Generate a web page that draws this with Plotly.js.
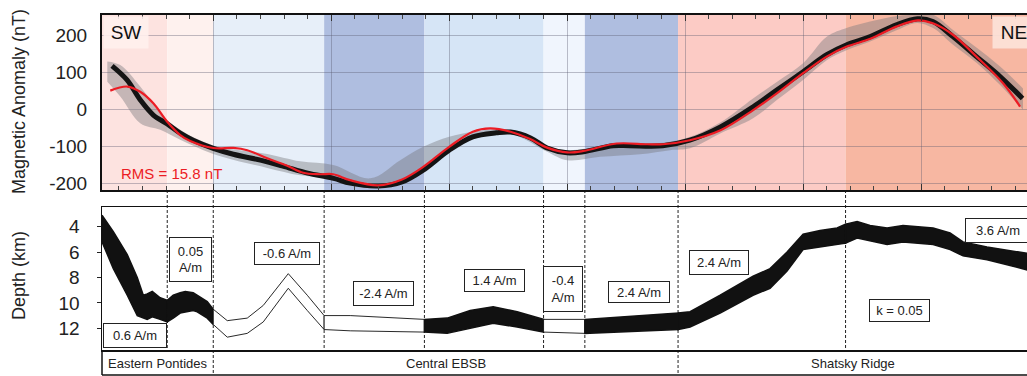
<!DOCTYPE html>
<html><head><meta charset="utf-8">
<script src="https://cdn.plot.ly/plotly-3.0.1.min.js"></script>
<style>html,body{margin:0;padding:0;background:#fff}#chart{width:1027px;height:376px}</style>
</head><body><div id="chart"></div>
<script>
// ---------- data (distance along profile in km) ----------
const modelX = [14.2, 26.9, 38.1, 49.2, 61, 72, 83, 100, 117, 140, 159, 180, 202, 216, 240, 260, 278, 300, 320, 340, 352, 369, 383, 400, 414, 439, 453, 481, 504, 530, 558, 578, 600, 620, 637, 657, 679, 697, 710, 727, 747, 767, 786];
const modelY = [118, 80, 26, -15, -39, -64, -83, -105, -121, -137, -153, -172, -186, -199, -207, -196, -164, -110, -74, -63, -61, -77, -104, -117, -114, -98, -98, -98, -83, -47, 8, 53, 102, 148, 175, 197, 229, 245, 238, 197, 143, 89, 30];
const obsX = [12.7, 27.1, 38.1, 49.2, 61, 72, 80.5, 100, 117, 128.8, 145.8, 162.7, 176.3, 190.7, 201.7, 216, 240, 260, 278, 300, 320, 334.7, 352, 368.6, 383, 400, 414, 442, 467.8, 481, 504, 530, 558, 578, 600, 620, 637, 657, 679, 697, 710, 727, 747, 769.5, 783.9];
const obsY = [51, 62, 48, 17, -33, -69, -85, -104, -104, -110, -132, -152, -171, -175, -175, -191, -205, -189, -155, -101, -60, -51, -60, -80, -103, -116, -112, -92, -94, -94, -83, -56, -1, 44, 98, 143, 170, 191, 224, 241, 233, 202, 143, 71, 8];
const bandX = [10.2, 21.2, 38.1, 55.1, 72, 100, 145.8, 173.7, 201.7, 233, 258.5, 278, 300, 320, 351.7, 383, 400, 428, 461.9, 487.3, 504.2, 529.7, 557.6, 578, 600, 620.3, 637.3, 656.8, 679.7, 696.6, 710.2, 727.1, 747.5, 767, 786.4];
const bandUpper = [130, 120, 62, -10, -55, -97, -120, -140, -150, -186, -137, -101, -74, -60, -55, -98, -110, -101, -94, -87, -74, -35, 30, 75, 125, 197, 221, 238, 253, 256, 256, 215, 166, 116, 57];
const bandLower = [75, 35, -37, -55, -82, -120, -158, -178, -188, -213, -199, -168, -114, -79, -66, -114, -137, -128, -121, -110, -105, -65, -24, 26, 80, 134, 161, 184, 215, 234, 220, 175, 125, 66, -1];

const depthX = [5.7, 15.3, 27.1, 35.6, 40.7, 44, 48.3, 55, 61, 66.1, 72, 76.3, 83, 86.4, 94.9, 100, 111.9, 128.8, 142.4, 163.6, 179.7, 194, 216.1, 279, 298.3, 317.8, 337.3, 357.6, 380, 415, 494, 504.2, 529.7, 557.6, 572, 586.4, 600, 614.4, 628.8, 636, 645.8, 656.8, 671.2, 684.7, 710.2, 724.6, 735.6, 755.9, 789.8];
const depthTop = [3.1, 4.4, 6.2, 8.0, 9.4, 9.3, 9.1, 9.6, 9.8, 9.4, 9.2, 9.1, 9.2, 9.4, 9.9, 10.5, 11.4, 11.2, 10.2, 7.7, 9.4, 11.0, 11.0, 11.3, 11.2, 10.6, 10.3, 10.7, 11.3, 11.3, 10.8, 10.7, 9.4, 7.9, 7.3, 6.0, 4.6, 4.3, 4.1, 3.8, 3.6, 3.9, 4.1, 3.9, 4.1, 4.5, 5.2, 5.6, 6.1];
const depthBottom = [5.2, 7.3, 9.4, 11.0, 11.2, 11.3, 11.1, 11.3, 11.5, 11.2, 10.8, 10.7, 10.6, 10.7, 11.2, 11.7, 12.7, 12.4, 11.5, 8.85, 10.6, 12.1, 12.2, 12.3, 12.4, 12.0, 11.6, 11.9, 12.3, 12.4, 12.1, 11.9, 10.8, 9.4, 8.85, 7.5, 5.8, 5.6, 5.4, 5.3, 4.9, 5.1, 5.4, 5.2, 5.4, 5.8, 6.3, 6.6, 7.4];

const blockEdges = [5.7, 61, 100, 194, 279, 380, 415, 494, 636, 789.8];
const magnetization = [0.6, 0.05, -0.6, -2.4, 1.4, -0.4, 2.4, 2.4, 3.6];
const magLabels = ['0.6 A/m', '0.05<br>A/m', '-0.6 A/m', '-2.4 A/m', '1.4 A/m', '-0.4<br>A/m', '2.4 A/m', '2.4 A/m', '3.6 A/m'];
const regionNames = ['Eastern Pontides', 'Central EBSB', 'Shatsky Ridge'];
const regionEdges = [5.7, 100, 494, 789.8];
const conductivityLabel = 'k = 0.05';
const rmsLabel = 'RMS = 15.8 nT';
const yTicks = [-200, -100, 0, 100, 200];
const depthTicks = [4, 6, 8, 10, 12];

// ---------- styles / layout ----------
const H = 376;
const py = p => 1 - p / H;               // pixel row -> paper fraction
const topDom = [py(190), py(15)];
const botDom = [py(350), py(207)];
const FONT = 'Liberation Sans, Arial, Helvetica, sans-serif';

const bandColors = ['#fde3e0', '#fef1ee', '#e7eff9', '#afbee0', '#d6e5f6', '#f0f5fd', '#afbee0', '#fccbc5', '#f7b7a2'];

const traces = [];
traces.push({x: bandX, y: bandUpper, mode: 'lines', line: {width: 0, shape: 'spline'}, hoverinfo: 'skip', showlegend: false, xaxis: 'x', yaxis: 'y'});
traces.push({x: bandX, y: bandLower, mode: 'lines', line: {width: 0, shape: 'spline'}, fill: 'tonexty', fillcolor: 'rgba(120,120,125,0.42)', hoverinfo: 'skip', showlegend: false, xaxis: 'x', yaxis: 'y'});
traces.push({x: modelX, y: modelY, mode: 'lines', line: {color: '#141414', width: 5, shape: 'spline'}, showlegend: false, xaxis: 'x', yaxis: 'y'});
traces.push({x: obsX, y: obsY, mode: 'lines', line: {color: '#ec1c24', width: 2.2, shape: 'spline'}, showlegend: false, xaxis: 'x', yaxis: 'y'});

// source body polygons, black where magnetization is positive
for (let i = 0; i < magnetization.length; i++) {
  const a = blockEdges[i], b = blockEdges[i + 1];
  const xs = [], ts = [], bs = [];
  depthX.forEach((x, k) => { if (x >= a - 1e-6 && x <= b + 1e-6) { xs.push(x); ts.push(depthTop[k]); bs.push(depthBottom[k]); } });
  const filled = magnetization[i] > 0;
  traces.push({
    x: xs.concat(xs.slice().reverse(), [xs[0]]),
    y: ts.concat(bs.slice().reverse(), [ts[0]]),
    mode: 'lines', fill: 'toself', fillcolor: filled ? '#111' : '#fff',
    line: {color: '#111', width: filled ? 1.5 : 0.9}, showlegend: false, hoverinfo: 'skip',
    xaxis: 'x2', yaxis: 'y2'
  });
}

const shapes = [];
// coloured background bands
for (let i = 0; i < magnetization.length; i++) {
  shapes.push({type: 'rect', xref: 'x', yref: 'y domain', x0: blockEdges[i], x1: blockEdges[i + 1], y0: 0, y1: 1,
    fillcolor: bandColors[i], line: {width: 0}, layer: 'below'});
}
// dashed block boundaries
for (let i = 1; i < blockEdges.length - 1; i++) {
  const e = blockEdges[i];
  const full = regionEdges.includes(e);
  shapes.push({type: 'line', xref: 'x', yref: 'paper', x0: e, x1: e, y0: py(190), y1: full ? py(375) : py(350),
    line: {color: '#222', width: 1, dash: '3px,2px'}, layer: 'below'});
}
// region strip frame
shapes.push({type: 'line', xref: 'paper', yref: 'paper', x0: 0, x1: 0, y0: py(350), y1: py(375), line: {color: '#111', width: 1.5}});
shapes.push({type: 'line', xref: 'paper', yref: 'paper', x0: 0, x1: 1.05, y0: py(375), y1: py(375), line: {color: '#111', width: 1.5}});

const annotations = [];
const boxPos = [[33.9, 12.6, 62, 23], [80.5, 6.6, 41, 43], [162.7, 6.15, 64, 21], [244, 9.3, 59, 23], [338, 8.2, 59, 21], [396.6, 8.9, 38, 44], [461, 9.15, 60, 20], [528.8, 6.8, 58, 23], [765, 4.3, 64, 23]];
magLabels.forEach((t, i) => {
  const p = boxPos[i];
  annotations.push({text: t, xref: 'x2', yref: 'y2', x: p[0], y: p[1], xanchor: 'center', yanchor: 'middle', showarrow: false, width: p[2], height: p[3],
    bgcolor: '#fff', bordercolor: '#222', borderwidth: 1, borderpad: 0, font: {family: FONT, size: 13, color: '#222'}});
});
annotations.push({text: conductivityLabel, xref: 'x2', yref: 'y2', x: 682, y: 10.6, xanchor: 'center', yanchor: 'middle', showarrow: false, width: 59, height: 21,
  bgcolor: '#fff', bordercolor: '#222', borderwidth: 1, borderpad: 0, font: {family: FONT, size: 13, color: '#222'}});
regionNames.forEach((t, i) => {
  annotations.push({text: t, xref: 'x2', yref: 'paper', x: (regionEdges[i] + regionEdges[i + 1]) / 2, y: py(363),
    xanchor: 'center', yanchor: 'middle', showarrow: false, font: {family: FONT, size: 13, color: '#222'}});
});
annotations.push({text: 'SW', xref: 'paper', yref: 'paper', x: 0, xshift: 1, xanchor: 'left', y: topDom[1], yanchor: 'top', yshift: -1,
  showarrow: false, width: 42, height: 29, bgcolor: 'rgba(255,240,237,0.9)', font: {family: FONT, size: 19, color: '#111'}});
annotations.push({text: 'NE', xref: 'x', yref: 'paper', x: 760, xanchor: 'left', y: topDom[1], yanchor: 'top', yshift: -1,
  showarrow: false, width: 40, height: 29, bgcolor: 'rgba(252,226,216,0.92)', font: {family: FONT, size: 19, color: '#111'}});
annotations.push({text: rmsLabel, xref: 'paper', yref: 'y', x: 0, xshift: 17, xanchor: 'left', yanchor: 'middle', y: -174, showarrow: false,
  font: {family: FONT, size: 15, color: '#ec1c24'}});
annotations.push({text: 'Magnetic Anomaly (nT)', xref: 'paper', yref: 'paper', x: 0, xshift: -83, xanchor: 'center', yanchor: 'middle',
  y: py(102), textangle: -90, showarrow: false, font: {family: FONT, size: 18, color: '#222'}});
annotations.push({text: 'Depth (km)', xref: 'paper', yref: 'paper', x: 0, xshift: -83, xanchor: 'center', yanchor: 'middle',
  y: py(276), textangle: -90, showarrow: false, font: {family: FONT, size: 18, color: '#222'}});

const layout = {
  width: 1027, height: 376,
  margin: {l: 102, r: 0, t: 0, b: 0, pad: 0},
  paper_bgcolor: '#fff', plot_bgcolor: '#fff',
  showlegend: false,
  font: {family: FONT, color: '#222'},
  xaxis: {domain: [0, 1], range: [5.7, 789.8], anchor: 'y', tick0: 0, dtick: 100, showticklabels: false,
    ticks: 'inside', ticklen: 6, tickcolor: '#333', showgrid: true, gridcolor: 'rgba(90,90,110,0.38)', gridwidth: 1,
    minor: {dtick: 20, ticks: 'inside', ticklen: 4, tickcolor: '#444', showgrid: false},
    showline: true, linecolor: '#111', linewidth: 2, mirror: 'allticks', zeroline: false},
  yaxis: {domain: topDom, range: [-217.6, 255.4], tickvals: yTicks, ticktext: yTicks.map(String), ticks: '',
    ticklabelstandoff: 9, tickfont: {family: FONT, size: 19, color: '#222'},
    showgrid: true, gridcolor: 'rgba(90,90,110,0.38)', gridwidth: 1, zeroline: false,
    showline: true, linecolor: '#111', linewidth: 2},
  xaxis2: {domain: [0, 1], range: [5.7, 789.8], anchor: 'y2', matches: 'x', showticklabels: false, ticks: '', showgrid: false,
    zeroline: false, showline: true, linecolor: '#111', linewidth: 1.5, mirror: true},
  yaxis2: {domain: botDom, range: [13.71, 2.45], tickvals: depthTicks, ticktext: depthTicks.map(String),
    ticks: 'outside', ticklen: 4, tickcolor: '#222', ticklabelstandoff: 13, tickfont: {family: FONT, size: 19, color: '#222'},
    showgrid: false, zeroline: false, showline: true, linecolor: '#111', linewidth: 1.5},
  shapes: shapes,
  annotations: annotations
};

Plotly.newPlot('chart', traces, layout, {staticPlot: true, displayModeBar: false});
</script>
</body></html>
